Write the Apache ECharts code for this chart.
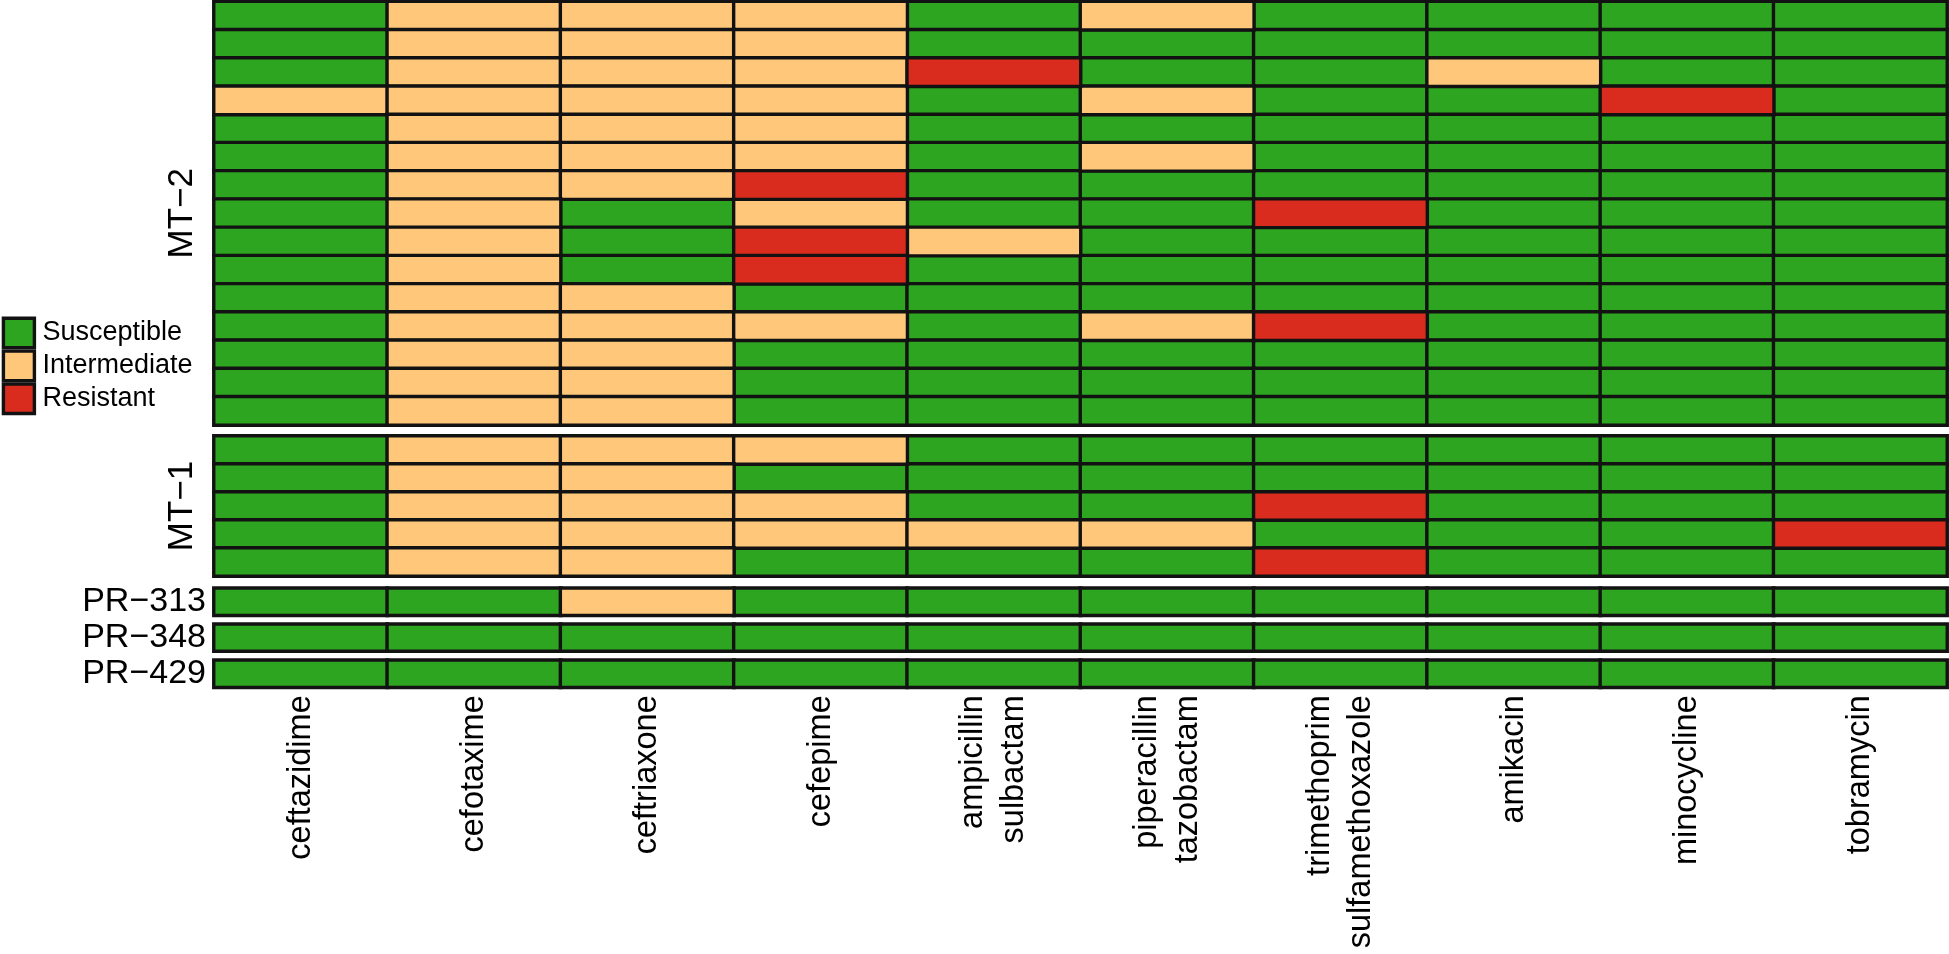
<!DOCTYPE html>
<html><head><meta charset="utf-8">
<script src="https://cdn.jsdelivr.net/npm/echarts@6/dist/echarts.min.js"></script>
<style>html,body{margin:0;padding:0;background:#fff}#c{width:1949px;height:954px}</style>
</head><body><div id="c"></div>
<script>
// ---- data ----
const antibiotics = ['ceftazidime','cefotaxime','ceftriaxone','cefepime','ampicillin\nsulbactam','piperacillin\ntazobactam','trimethoprim\nsulfamethoxazole','amikacin','minocycline','tobramycin'];
const categories = ['Susceptible','Intermediate','Resistant'];
const codes = ['S','I','R'];
// rows top-to-bottom, one letter per antibiotic (S / I / R)
const mt2 = [
  'SIIISISSSS',
  'SIIISSSSSS',
  'SIIIRSSISS',
  'IIIISISSRS',
  'SIIISSSSSS',
  'SIIISISSSS',
  'SIIRSSSSSS',
  'SISISSRSSS',
  'SISRISSSSS',
  'SISRSSSSSS',
  'SIISSSSSSS',
  'SIIISIRSSS',
  'SIISSSSSSS',
  'SIISSSSSSS',
  'SIISSSSSSS'
];
const mt1 = [
  'SIIISSSSSS',
  'SIISSSSSSS',
  'SIIISSRSSS',
  'SIIIIISSSR',
  'SIISSSRSSS'
];
const pr313 = ['SSISSSSSSS'];
const pr348 = ['SSSSSSSSSS'];
const pr429 = ['SSSSSSSSSS'];
const groupNames = ['MT\u22122','MT\u22121','PR\u2212313','PR\u2212348','PR\u2212429'];
const groupRows = [mt2, mt1, pr313, pr348, pr429];

// ---- style / layout ----
const colors = ['#2EA521','#FFC77A','#D92B1E'];
const borderCol = '#121212';
const FONT = '"Liberation Sans", Arial, Helvetica, sans-serif';
const layout = [
  {top:1.5,   height:423.5, rotated:true},
  {top:436,   height:140,   rotated:true},
  {top:588.3, height:27,    rotated:false},
  {top:624.3, height:26.7,  rotated:false},
  {top:660.3, height:27,    rotated:false}
];

const grids = [], xAxes = [], yAxes = [], series = [];
groupRows.forEach((rows, g) => {
  const L = layout[g];
  grids.push({left:214, right:2, top:L.top, height:L.height, containLabel:false});
  const last = g === groupRows.length - 1;
  xAxes.push({
    type:'category', gridIndex:g, data:antibiotics, position:'bottom',
    axisLine:{show:false}, axisTick:{show:false}, splitLine:{show:false},
    axisLabel:{show:last, interval:0, rotate:90, margin:8, fontSize:32.5, lineHeight:41,
      color:'#000', fontFamily:FONT}
  });
  const ycats = L.rotated ? rows.map((r,i)=>String(i+1)) : [groupNames[g]];
  yAxes.push({
    type:'category', gridIndex:g, data:ycats, inverse:true,
    axisLine:{show:false}, axisTick:{show:false}, splitLine:{show:false},
    axisLabel:{show:!L.rotated, margin:8, fontSize:34, color:'#000', fontFamily:FONT},
    name: L.rotated ? groupNames[g] : '',
    nameLocation:'middle', nameRotate:90, nameGap:14,
    nameTextStyle:{fontSize:35, color:'#000', fontFamily:FONT}
  });
  categories.forEach((cat, c) => {
    const data = [];
    rows.forEach((r, yi) => {
      for (let xi = 0; xi < r.length; xi++) {
        if (r[xi] === codes[c]) data.push([xi, yi, c]);
      }
    });
    series.push({
      type:'heatmap', name:cat, xAxisIndex:g, yAxisIndex:g, data:data,
      itemStyle:{color:colors[c], borderColor:borderCol, borderWidth:3.4},
      emphasis:{disabled:true}, silent:true, animation:false
    });
  });
});

const chart = echarts.init(document.getElementById('c'), null, {renderer:'canvas'});
chart.setOption({
  animation:false,
  backgroundColor:'#fff',
  grid:grids, xAxis:xAxes, yAxis:yAxes, series:series,
  legend:{
    data:categories, orient:'vertical', left:1.7, top:316.5, padding:0,
    itemWidth:31, itemHeight:29.5, itemGap:0, icon:'rect',
    itemStyle:{borderColor:borderCol, borderWidth:3.4},
    textStyle:{fontSize:27, lineHeight:29.5, color:'#000', fontFamily:FONT, padding:[0,0,0,3]},
    selectedMode:false
  }
});
</script></body></html>
